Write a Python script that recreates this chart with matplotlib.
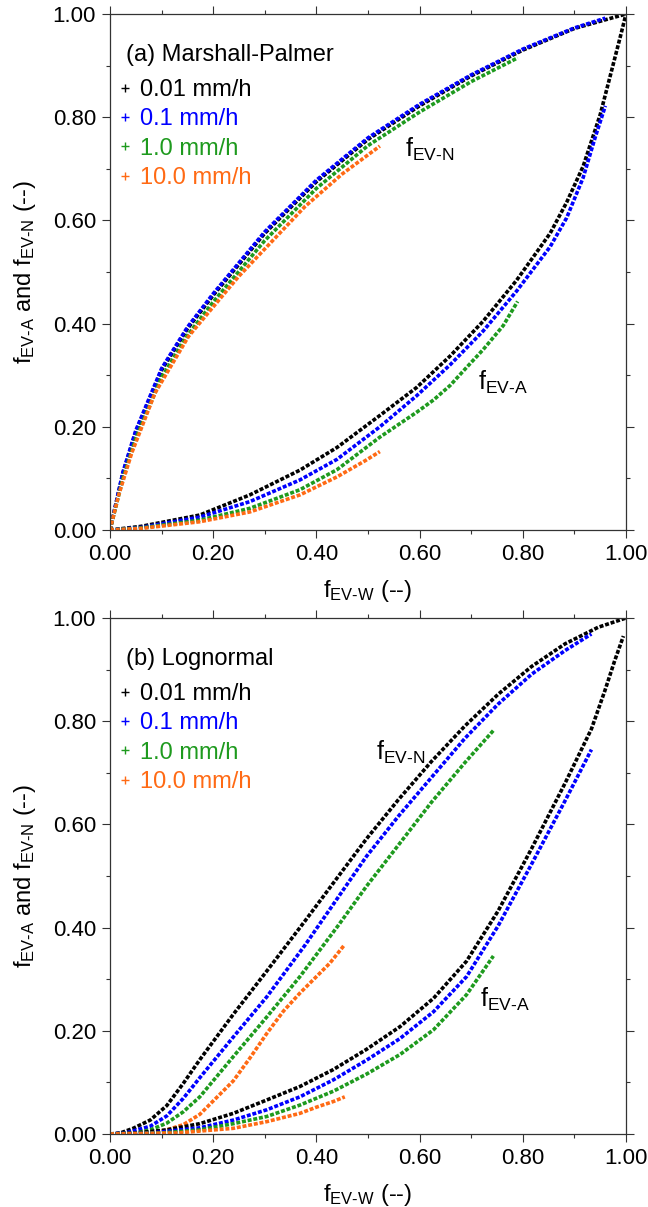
import matplotlib
matplotlib.use("Agg")
import matplotlib.pyplot as plt
from matplotlib.lines import Line2D
from matplotlib.ticker import MultipleLocator, FormatStrFormatter

plt.rcParams['font.family'] = ['Liberation Sans', 'DejaVu Sans']
plt.rcParams['mathtext.fontset'] = 'custom'
plt.rcParams['mathtext.rm'] = 'Liberation Sans'
plt.rcParams['mathtext.it'] = 'Liberation Sans'
plt.rcParams['font.size'] = 16

# rain rates and colours
labels = ['0.01 mm/h', '0.1 mm/h', '1.0 mm/h', '10.0 mm/h']
colors = ['black', '#0000ff', '#1e9a1e', '#ff6a14']

# (a) Marshall-Palmer : f_EV-N (upper curves), (x, y)
mp_n_001 = [(0, 0), (0.025, 0.11), (0.05, 0.19), (0.1, 0.31), (0.15, 0.39), (0.2, 0.455),
            (0.3, 0.575), (0.4, 0.675), (0.5, 0.757), (0.6, 0.822), (0.7, 0.880),
            (0.8, 0.930), (0.9, 0.972), (1.0, 1.0)]
mp_n_01 = [(0, 0), (0.025, 0.112), (0.05, 0.193), (0.1, 0.313), (0.15, 0.393), (0.2, 0.458),
           (0.3, 0.578), (0.4, 0.678), (0.5, 0.760), (0.6, 0.825), (0.7, 0.882),
           (0.8, 0.932), (0.9, 0.973), (0.96, 0.992)]
mp_n_1 = [(0, 0), (0.025, 0.10), (0.05, 0.178), (0.1, 0.296), (0.15, 0.377), (0.2, 0.442),
          (0.3, 0.561), (0.4, 0.662), (0.5, 0.745), (0.6, 0.810), (0.7, 0.869), (0.79, 0.915)]
mp_n_10 = [(0, 0), (0.016, 0.065), (0.042, 0.149), (0.087, 0.265), (0.152, 0.375),
           (0.249, 0.491), (0.378, 0.627), (0.45, 0.69), (0.504, 0.73), (0.523, 0.744)]

# (a) Marshall-Palmer : f_EV-A (lower curves)
mp_a_001 = [(0, 0), (0.06, 0.007), (0.174, 0.029), (0.271, 0.068), (0.368, 0.116), (0.44, 0.16),
            (0.523, 0.222), (0.594, 0.276), (0.659, 0.337), (0.7235, 0.405), (0.788, 0.484),
            (0.853, 0.575), (0.885, 0.635), (0.917, 0.705), (0.95, 0.805), (0.972, 0.89),
            (0.99, 0.96), (1.0, 1.0)]
mp_a_01 = [(0, 0), (0.06, 0.005), (0.174, 0.025), (0.271, 0.055), (0.368, 0.097), (0.44, 0.137),
           (0.523, 0.200), (0.594, 0.260), (0.659, 0.320), (0.7235, 0.386), (0.788, 0.463),
           (0.853, 0.549), (0.885, 0.605), (0.917, 0.683), (0.94, 0.760), (0.96, 0.822)]
mp_a_1 = [(0, 0), (0.06, 0.004), (0.174, 0.019), (0.271, 0.042), (0.368, 0.078), (0.44, 0.117),
          (0.523, 0.180), (0.594, 0.228), (0.627, 0.252), (0.659, 0.280), (0.691, 0.315),
          (0.7235, 0.350), (0.762, 0.396), (0.790, 0.443)]
mp_a_10 = [(0, 0), (0.06, 0.003), (0.174, 0.016), (0.271, 0.035), (0.368, 0.068), (0.44, 0.103),
           (0.494, 0.134), (0.523, 0.152)]

# (b) Lognormal : f_EV-N
ln_n_001 = [(0, 0), (0.02, 0.002), (0.045, 0.011), (0.078, 0.027), (0.11, 0.055), (0.142, 0.098),
            (0.174, 0.144), (0.239, 0.232), (0.304, 0.316), (0.378, 0.413), (0.443, 0.500),
            (0.497, 0.572), (0.559, 0.648), (0.623, 0.722), (0.688, 0.791), (0.752, 0.852),
            (0.817, 0.906), (0.882, 0.950), (0.946, 0.982), (1.0, 1.0)]
ln_n_01 = [(0, 0), (0.03, 0.002), (0.078, 0.015), (0.11, 0.035), (0.142, 0.069), (0.174, 0.109),
           (0.239, 0.188), (0.304, 0.266), (0.378, 0.366), (0.443, 0.460), (0.497, 0.538),
           (0.559, 0.616), (0.623, 0.691), (0.688, 0.767), (0.752, 0.833), (0.817, 0.891),
           (0.882, 0.937), (0.933, 0.969)]
ln_n_1 = [(0, 0), (0.05, 0.002), (0.078, 0.008), (0.11, 0.021), (0.142, 0.043), (0.174, 0.072),
          (0.239, 0.150), (0.304, 0.227), (0.368, 0.305), (0.443, 0.405), (0.497, 0.480),
          (0.559, 0.560), (0.623, 0.643), (0.688, 0.720), (0.743, 0.782)]
ln_n_10 = [(0, 0), (0.08, 0.002), (0.11, 0.008), (0.142, 0.018), (0.174, 0.038), (0.239, 0.103),
           (0.271, 0.147), (0.304, 0.195), (0.336, 0.238), (0.368, 0.273), (0.400, 0.305),
           (0.426, 0.331), (0.454, 0.366)]

# (b) Lognormal : f_EV-A
ln_a_001 = [(0, 0), (0.05, 0.002), (0.110, 0.008), (0.174, 0.020), (0.239, 0.040), (0.304, 0.066),
            (0.368, 0.092), (0.433, 0.125), (0.497, 0.164), (0.562, 0.208), (0.627, 0.263),
            (0.691, 0.335), (0.752, 0.432), (0.817, 0.553), (0.882, 0.680), (0.933, 0.785),
            (0.959, 0.859), (0.978, 0.917), (0.995, 0.965)]
ln_a_01 = [(0, 0), (0.08, 0.002), (0.174, 0.012), (0.239, 0.027), (0.304, 0.047), (0.368, 0.072),
           (0.433, 0.105), (0.497, 0.143), (0.562, 0.185), (0.627, 0.237), (0.691, 0.305),
           (0.752, 0.403), (0.817, 0.523), (0.882, 0.646), (0.933, 0.745)]
ln_a_1 = [(0, 0), (0.1, 0.002), (0.174, 0.008), (0.239, 0.020), (0.304, 0.034), (0.368, 0.056),
          (0.433, 0.083), (0.497, 0.116), (0.562, 0.154), (0.627, 0.202), (0.691, 0.270),
          (0.743, 0.345)]
ln_a_10 = [(0, 0), (0.13, 0.002), (0.239, 0.011), (0.304, 0.024), (0.368, 0.040), (0.400, 0.052),
           (0.433, 0.063), (0.455, 0.072)]

panels = [
    ('(a) Marshall-Palmer', [mp_n_001, mp_n_01, mp_n_1, mp_n_10], [mp_a_001, mp_a_01, mp_a_1, mp_a_10],
     (0.572, 0.7235), (0.714, 0.271)),
    ('(b) Lognormal', [ln_n_001, ln_n_01, ln_n_1, ln_n_10], [ln_a_001, ln_a_01, ln_a_1, ln_a_10],
     (0.5155, 0.725), (0.717, 0.246)),
]

W, H = 648, 1207
fig = plt.figure(figsize=(W / 100, H / 100), dpi=100)
ax_a = fig.add_axes([110 / W, (H - 530) / H, 516 / W, 516 / H])
ax_b = fig.add_axes([110 / W, (H - 1134) / H, 516 / W, 516 / H])

hy = '\u2010'
for ax, (title, n_curves, a_curves, pos_n, pos_a) in zip([ax_a, ax_b], panels):
    for curve_set in (n_curves, a_curves):
        for pts, c in zip(curve_set, colors):
            xs = [p[0] for p in pts]
            ys = [p[1] for p in pts]
            ax.plot(xs, ys, color=c, lw=2.6, ls=(0, (1.1, 0.5)), solid_capstyle='butt')

    ax.set_xlim(0, 1)
    ax.set_ylim(0, 1)
    ax.xaxis.set_major_locator(MultipleLocator(0.2))
    ax.yaxis.set_major_locator(MultipleLocator(0.2))
    ax.xaxis.set_minor_locator(MultipleLocator(0.1))
    ax.yaxis.set_minor_locator(MultipleLocator(0.1))
    ax.xaxis.set_major_formatter(FormatStrFormatter('%.2f'))
    ax.yaxis.set_major_formatter(FormatStrFormatter('%.2f'))
    ax.tick_params(which='both', direction='out', top=True, right=True, width=0.8, color='#333333')
    ax.tick_params(which='major', length=6, labelsize=16, pad=4)
    ax.tick_params(which='minor', length=3)
    for sp in ax.spines.values():
        sp.set_linewidth(0.9)
        sp.set_color('#333333')

    ax.set_xlabel(r'$\mathregular{f_{EV' + hy + 'W}}$ (--)', fontsize=17)
    ax.set_ylabel(r'$\mathregular{f_{EV' + hy + 'A}}$ and $\mathregular{f_{EV' + hy + 'N}}$ (--)', fontsize=17)
    ax.xaxis.set_label_coords(0.5, -0.093)
    ax.yaxis.set_label_coords(-0.14, 0.5)

    ax.text(pos_n[0], pos_n[1], r'$\mathregular{f_{EV' + hy + 'N}}$', fontsize=18, ha='left', va='baseline')
    ax.text(pos_a[0], pos_a[1], r'$\mathregular{f_{EV' + hy + 'A}}$', fontsize=18, ha='left', va='baseline')

    ax.text(0.031, 0.92, title, fontsize=17, ha='left', va='center')
    handles = [Line2D([], [], ls='none', marker='+', color=c, markersize=6, mew=1) for c in colors]
    leg = ax.legend(handles, labels, loc='upper left', bbox_to_anchor=(0.0155, 0.874),
                    frameon=False, fontsize=17, handlelength=0.6, handletextpad=0.33,
                    labelspacing=0.31, borderpad=0, borderaxespad=0)
    for t, c in zip(leg.get_texts(), colors):
        t.set_color(c)

fig.savefig('out.png', dpi=100)
